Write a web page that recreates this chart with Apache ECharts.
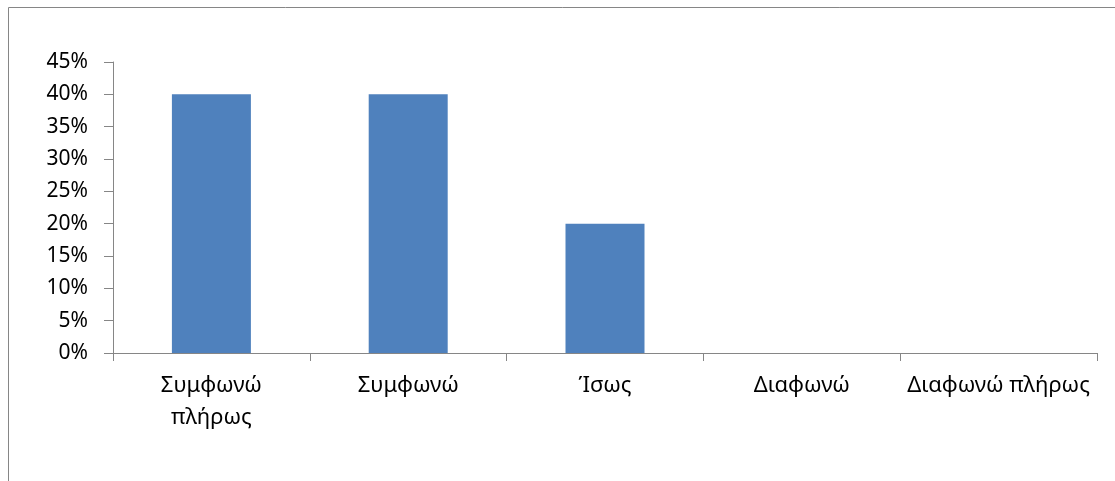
<!DOCTYPE html>
<html>
<head>
<meta charset="utf-8">
<script src="https://cdn.jsdelivr.net/npm/echarts@6/dist/echarts.min.js"></script>
<style>
  html, body { margin: 0; padding: 0; background: #fff; }
  #chart { width: 1115px; height: 481px; }
</style>
</head>
<body>
<div id="chart"></div>
<script>
// Response categories (Likert scale) and share of answers
const categories = ['Συμφωνώ\nπλήρως', 'Συμφωνώ', 'Ίσως', 'Διαφωνώ', 'Διαφωνώ πλήρως'];
const shares = [0.40, 0.40, 0.20, 0, 0];
const yMax = 0.45;
const yStep = 0.05;

const axisGrey = '#868686';
const font = 'Noto Sans';

const chart = echarts.init(document.getElementById('chart'));
chart.setOption({
  animation: false,
  backgroundColor: '#ffffff',
  textStyle: { fontFamily: font },
  graphic: [{
    type: 'rect',
    shape: { x: 8.5, y: 7.5, width: 1300, height: 1000 },
    style: { fill: 'none', stroke: axisGrey, lineWidth: 1 },
    silent: true
  }],
  grid: { left: 113, right: 18, top: 62, bottom: 128, containLabel: false },
  xAxis: {
    type: 'category',
    data: categories,
    axisLine: { lineStyle: { color: axisGrey, width: 1 } },
    axisTick: { show: true, length: 8, lineStyle: { color: axisGrey } },
    axisLabel: {
      color: '#000', fontFamily: font, fontSize: 22,
      margin: 17, lineHeight: 32, interval: 0
    },
    splitLine: { show: false }
  },
  yAxis: {
    type: 'value',
    min: 0, max: yMax, interval: yStep,
    axisLine: { show: true, lineStyle: { color: axisGrey, width: 1 } },
    axisTick: { show: true, length: 9, lineStyle: { color: axisGrey } },
    axisLabel: {
      color: '#000', fontFamily: font, fontSize: 21, margin: 25,
      formatter: v => Math.round(v * 100) + '%'
    },
    splitLine: { show: false }
  },
  series: [{
    type: 'bar',
    data: shares,
    barWidth: 79,
    itemStyle: { color: '#4F81BD' }
  }]
});
</script>
</body>
</html>
